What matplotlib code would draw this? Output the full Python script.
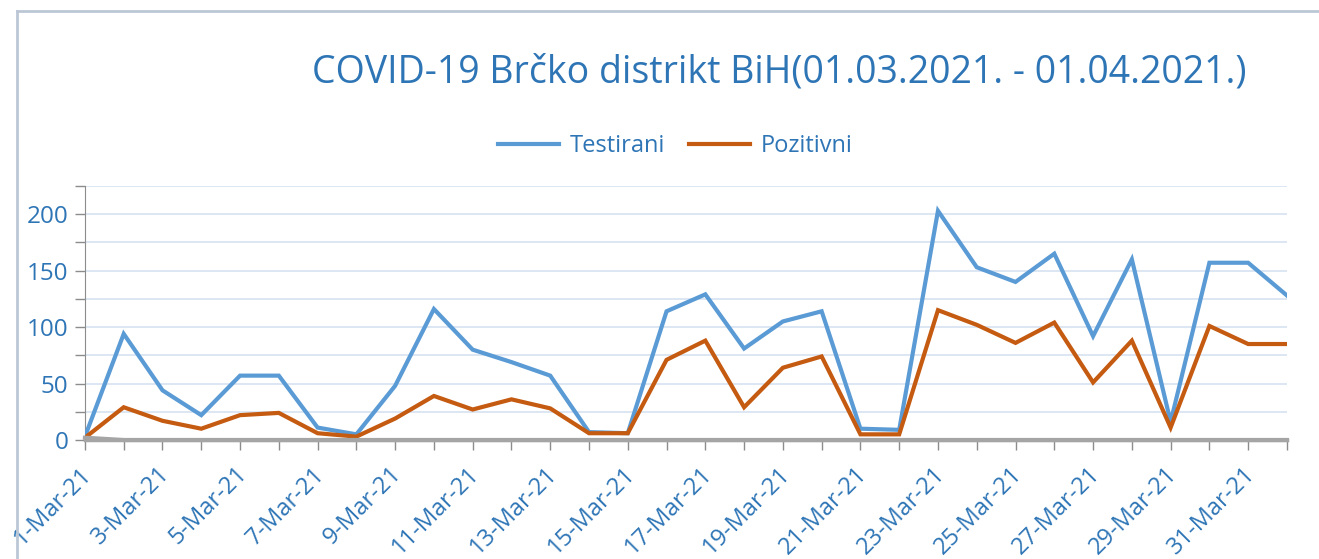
import numpy as np
import matplotlib
matplotlib.use("Agg")
import matplotlib.pyplot as plt
import matplotlib.transforms as mtransforms
from matplotlib.lines import Line2D

plt.rcParams['font.family'] = ['Open Sans', 'DejaVu Sans']

days = list(range(1, 32)) + [1]
months = ['Mar'] * 31 + ['Apr']
date_labels = [f"{d}-{m}-21" for d, m in zip(days, months)]

testirani = [3, 94, 44, 22, 57, 57, 11, 5, 48, 116,
             80, 69, 57, 7, 6, 114, 129, 81, 105, 114,
             10, 9, 203, 153, 140, 165, 92, 160, 16, 157,
             157, 128]
pozitivni = [2, 29, 17, 10, 22, 24, 6, 3, 19, 39,
             27, 36, 28, 6, 6, 71, 88, 29, 64, 74,
             5, 5, 115, 102, 86, 104, 51, 88, 11, 101,
             85, 85]
umrli = [2] + [0] * 31

blue = '#5B9BD5'
orange = '#C55A11'
gray = '#A5A5A5'
text_blue = '#2E75B6'

fig = plt.figure(figsize=(13.19, 5.59), dpi=100)
ax = fig.add_axes([0.0644, 0.2129, 0.9113, 0.4544])

x = np.arange(len(date_labels))
ax.plot(x, testirani, color=blue, lw=3, label='Testirani', zorder=3, solid_joinstyle='miter')
ax.plot(x, pozitivni, color=orange, lw=3, label='Pozitivni', zorder=4, solid_joinstyle='miter')
ax.plot(x, umrli, color=gray, lw=3, zorder=5, clip_on=False)

ax.set_xlim(0, len(x) - 1)
ax.set_ylim(0, 225)
ax.set_yticks(np.arange(0, 226, 25))
ax.set_yticklabels([str(v) if v % 50 == 0 else '' for v in range(0, 226, 25)])
ax.set_xticks(x)
ax.set_xticklabels([lab if i % 2 == 0 else '' for i, lab in enumerate(date_labels)],
                   rotation=45, ha='right', rotation_mode='anchor')

ax.grid(axis='y', color='#D5E3F1', lw=1.2)
ax.set_axisbelow(True)
for s in ['top', 'right']:
    ax.spines[s].set_visible(False)
ax.spines['left'].set_color('#8C8C8C')
ax.spines['bottom'].set_color(gray)
ax.spines['bottom'].set_linewidth(2.5)
ax.tick_params(axis='y', colors='#8C8C8C', labelcolor=text_blue, labelsize=17.5,
               length=7, width=1, pad=5)
ax.tick_params(axis='x', colors='#8C8C8C', labelcolor=text_blue, labelsize=17,
               length=7, width=1, pad=9)

# nudge date labels a little to the left
shift = mtransforms.ScaledTranslation(-0.05, 0, fig.dpi_scale_trans)
for lab in ax.get_xticklabels():
    lab.set_transform(lab.get_transform() + shift)

fig.text(0.591, 0.87, 'COVID-19 Brčko distrikt BiH(01.03.2021. - 01.04.2021.)',
         ha='center', va='center', fontsize=27, color=text_blue)

fig.legend(loc='center', bbox_to_anchor=(0.512, 0.739), ncol=2, frameon=False,
           fontsize=17, handlelength=2.6, columnspacing=1.0, handletextpad=0.45,
           labelcolor=text_blue)

# chart frame
fig.add_artist(Line2D([17 / 1319, 17 / 1319], [0, 1 - 11 / 559], color='#BCC7D6', lw=2))
fig.add_artist(Line2D([17 / 1319, 1], [1 - 11 / 559, 1 - 11 / 559], color='#BCC7D6', lw=2))

fig.savefig('out.png', dpi=100)
